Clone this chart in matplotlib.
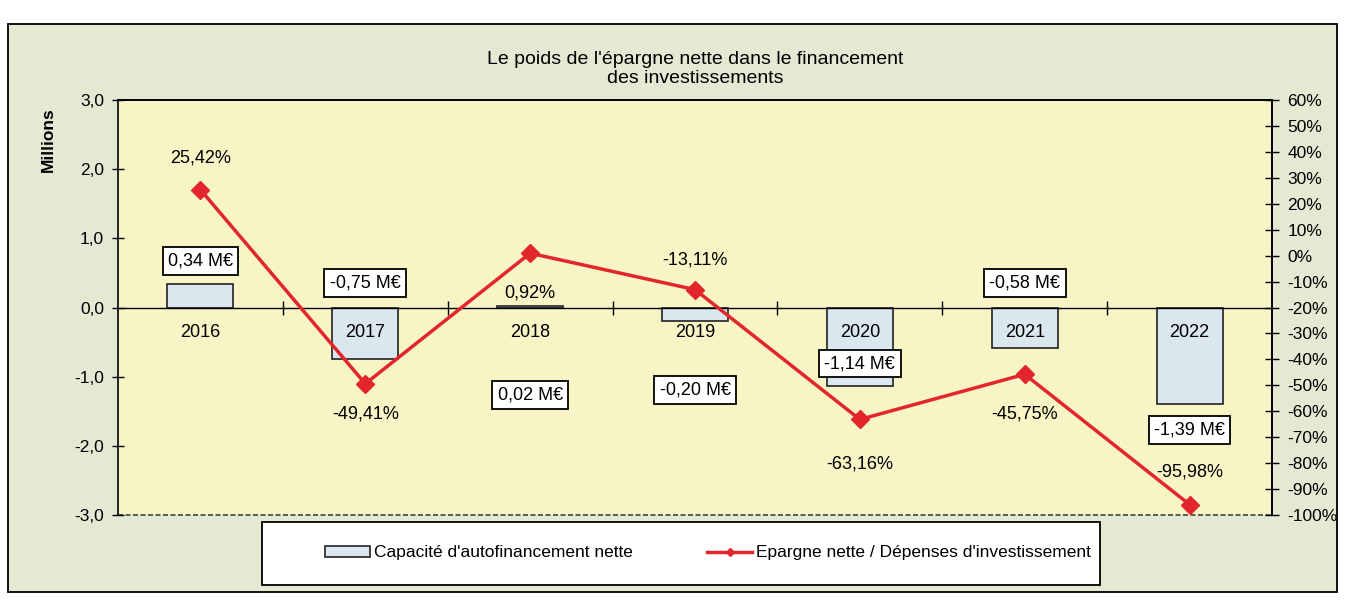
import matplotlib.pyplot as plt
import matplotlib.patches as mpatches
from matplotlib.lines import Line2D
from matplotlib.ticker import FuncFormatter, MultipleLocator, FixedLocator

plt.rcParams['font.family'] = ['Liberation Sans', 'DejaVu Sans']

# data
years = ['2016', '2017', '2018', '2019', '2020', '2021', '2022']
caf_nette = [0.34, -0.75, 0.02, -0.20, -1.14, -0.58, -1.39]          # millions
ratio_pct = [25.42, -49.41, 0.92, -13.11, -63.16, -45.75, -95.98]     # %
caf_labels = ['0,34 M€', '-0,75 M€', '0,02 M€', '-0,20 M€', '-1,14 M€', '-0,58 M€', '-1,39 M€']
pct_labels = ['25,42%', '-49,41%', '0,92%', '-13,11%', '-63,16%', '-45,75%', '-95,98%']

# label placement (layout only)
caf_label_y = [0.67, 0.36, -1.26, -1.19, -0.81, 0.35, -1.77]
pct_offset = [32, -30, -40, 30, -45, -40, 33]

chart_bg = '#e4e9d4'
plot_bg = '#f7f4c6'
bar_col = '#dbe7ef'
red = '#e3262b'

fig = plt.figure(figsize=(13.58, 6.08), dpi=100, facecolor='white')
fig.patches.append(mpatches.Rectangle((8/1358, 1-592/608), 1329/1358, 568/608,
                                      transform=fig.transFigure, fc=chart_bg,
                                      ec='black', lw=1.3, zorder=-5))

ax = fig.add_axes([118/1358, 1-515/608, (1272-118)/1358, 415/608])
ax.set_facecolor(plot_bg)
ax.set_axisbelow(False)
x = list(range(len(years)))

ax.bar(x, caf_nette, width=0.4, color=bar_col, edgecolor='#222222', lw=1.2, zorder=1)
for i in x:
    ax.text(i, caf_label_y[i], caf_labels[i], ha='center', va='center', fontsize=13, zorder=4,
            bbox=dict(boxstyle='square,pad=0.3', fc='white', ec='black', lw=1.3))

ax.set_xlim(-0.5, 6.5)
ax.set_ylim(-3, 3)
ax.yaxis.set_major_locator(MultipleLocator(1))
ax.yaxis.set_major_formatter(FuncFormatter(lambda v, p: f"{v:.1f}".replace('.', ',')))
ax.tick_params(axis='y', direction='inout', length=8, width=1, labelsize=12.5, pad=6)

ax.spines['bottom'].set_position(('data', 0))
ax.spines['bottom'].set_linewidth(1)
ax.set_xticks(x)
ax.set_xticklabels(years)
ax.xaxis.set_minor_locator(FixedLocator([i + 0.5 for i in x[:-1]]))
ax.tick_params(axis='x', which='major', length=0, pad=12, labelsize=13)
ax.tick_params(axis='x', which='minor', direction='inout', length=10, width=1)
ax.axhline(-3, color='#444444', lw=1.2, ls=(0, (3, 1.5)), clip_on=False)
for s in ['top', 'left', 'right']:
    ax.spines[s].set_linewidth(1.2)

ax2 = ax.twinx()
ratio = [v / 100 for v in ratio_pct]
ax2.plot(x, ratio, color=red, lw=2.5, marker='D', markersize=9, markeredgecolor=red, zorder=5)
for i in x:
    ax2.annotate(pct_labels[i], (i, ratio[i]), xytext=(0, pct_offset[i]), textcoords='offset pixels',
                 ha='center', va='center', fontsize=13)
ax2.set_ylim(-1.0, 0.6)
ax2.yaxis.set_major_locator(MultipleLocator(0.1))
ax2.yaxis.set_major_formatter(FuncFormatter(lambda v, p: f"{int(round(v*100))}%"))
ax2.tick_params(axis='y', direction='inout', length=10, width=1, labelsize=12.5, pad=6)
ax2.spines['bottom'].set_visible(False)
ax2.spines['left'].set_visible(False)
ax2.spines['right'].set_linewidth(1.2)
ax2.spines['top'].set_linewidth(1.2)

fig.text(695/1358, 1-69/608, "Le poids de l'épargne nette dans le financement\ndes investissements",
         ha='center', va='center', fontsize=14, linespacing=1.15)
fig.text(48/1358, 1-140/608, 'Millions', rotation=90, ha='center', va='center',
         fontsize=12.5, fontweight='bold')

# legend
fig.patches.append(mpatches.Rectangle((262/1358, 1-585/608), 838/1358, 63/608,
                                      transform=fig.transFigure, fc='white',
                                      ec='black', lw=1.3, zorder=1))
handles = [mpatches.Patch(fc=bar_col, ec='#222222', lw=1.2),
           Line2D([], [], color=red, lw=2.5, marker='D', markersize=4)]
fig.legend(handles, ["Capacité d'autofinancement nette", "Epargne nette / Dépenses d'investissement"],
           loc='center', bbox_to_anchor=(708/1358, 1-553/608), ncol=2, frameon=False,
           fontsize=12.5, handlelength=2.6, handleheight=0.6, handletextpad=0.2,
           columnspacing=4.3)

fig.savefig('out.png', dpi=100)
